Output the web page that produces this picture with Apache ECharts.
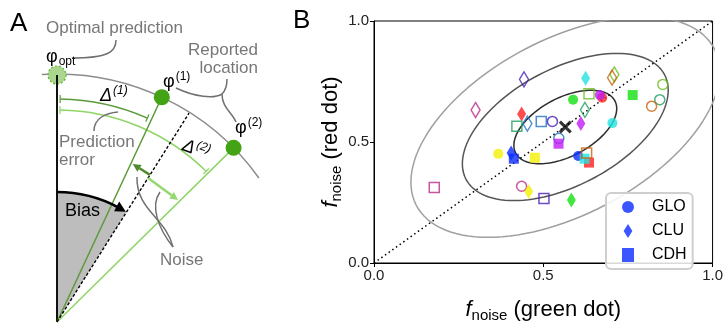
<!DOCTYPE html>
<html>
<head>
<meta charset="utf-8">
<script src="https://cdn.jsdelivr.net/npm/echarts@6/dist/echarts.min.js"></script>
<style>
  html, body { margin: 0; padding: 0; background: #fff; }
  #chart { width: 726px; height: 328px; }
</style>
</head>
<body>
<div id="chart"></div>
<script>
// participants: 6 filled colours, 6 hollow colours
const participants = ['red', 'magenta', 'blue', 'cyan', 'yellow', 'green',
                      'pink', 'purple', 'steel', 'teal', 'lime', 'orange']
const filled = [true, true, true, true, true, true, false, false, false, false, false, false]

// f_noise (green dot), f_noise (red dot) per participant
const gloData = [[0.674, 0.683], [0.667, 0.694], [0.603, 0.442], [0.704, 0.578], [0.367, 0.451], [0.588, 0.675],
                 [0.436, 0.317], [0.527, 0.585], [0.546, 0.515], [0.844, 0.675], [0.853, 0.738], [0.820, 0.648]]
const cluData = [[0.436, 0.616], [0.611, 0.576], [0.405, 0.455], [0.625, 0.763], [0.457, 0.295], [0.583, 0.260],
                 [0.300, 0.632], [0.443, 0.759], [0.453, 0.576], [0.623, 0.633], [0.710, 0.779], [0.703, 0.766]]
const cdhData = [[0.635, 0.415], [0.545, 0.493], [0.413, 0.431], [0.622, 0.431], [0.475, 0.435], [0.764, 0.694],
                 [0.178, 0.312], [0.502, 0.267], [0.494, 0.585], [0.422, 0.565], [0.635, 0.699], [0.628, 0.455]]
const meanPoint = [0.565, 0.562]
// covariance of the cloud: sigma (both axes), correlation, and the sigma levels drawn
const ellipseSigma = 0.152
const ellipseRho = 0.5
const ellipseLevels = [1, 2, 3]
const axisTicks = [0, 0.5, 1]

const palette = {
    red: '#ff1f1f', magenta: '#c21cf5', blue: '#0b2cff', cyan: '#22e3e0', yellow: '#f2f000', green: '#12e012',
    pink: '#bb2a8a', purple: '#4a1fb8', steel: '#1f72c4', teal: '#1fa060', lime: '#6cbf1f', orange: '#c8620f',
}
const FONT = '"Liberation Sans", Arial, sans-serif'

function points(arr) {
    return arr.map((p, i) => {
        let c = palette[participants[i]]
        return {
            value: p,
            itemStyle: filled[i]
                ? { color: c, borderWidth: 0 }
                : { color: 'rgba(255,255,255,0)', borderColor: c, borderWidth: 1.5 },
        }
    })
}

function ellipse(k) {
    let a = ellipseSigma * Math.sqrt(1 + ellipseRho)
    let b = ellipseSigma * Math.sqrt(1 - ellipseRho)
    let c = Math.SQRT1_2
    let out = []
    for (let d = 0; d <= 360; d += 3) {
        let t = d * Math.PI / 180
        out.push([meanPoint[0] + k * (a * c * Math.cos(t) - b * c * Math.sin(t)),
                  meanPoint[1] + k * (a * c * Math.cos(t) + b * c * Math.sin(t))])
    }
    return out
}

// ---------- panel A (schematic) ----------
const O = [57, 322]
const rad = d => d * Math.PI / 180
function P(r, a) { return [O[0] + r * Math.sin(rad(a)), O[1] - r * Math.cos(rad(a))] }
const ANG = { phi1: 25, phi2: 45.4, bias: 32.3 }
const DARK = '#5a9a38', LIGHT = '#8fd467', DOT = '#44a315', GREY = '#707070'

function line(p1, p2, stroke, w, dash) {
    return { type: 'line', shape: { x1: p1[0], y1: p1[1], x2: p2[0], y2: p2[1] },
             style: { stroke: stroke, lineWidth: w, lineDash: dash || null } }
}
function arc(r, a1, a2, stroke, w) {
    return { type: 'arc', shape: { cx: O[0], cy: O[1], r: r, startAngle: rad(a1 - 90), endAngle: rad(a2 - 90), clockwise: true },
             style: { stroke: stroke, lineWidth: w, fill: null } }
}
function arrow(p1, p2, color, w) {
    let dx = p2[0] - p1[0], dy = p2[1] - p1[1]
    let L = Math.sqrt(dx * dx + dy * dy), ux = dx / L, uy = dy / L
    let hl = 8, hw = 4
    let base = [p2[0] - ux * hl, p2[1] - uy * hl]
    return [
        line(p1, base, color, w),
        { type: 'polygon', shape: { points: [p2, [base[0] - uy * hw, base[1] + ux * hw], [base[0] + uy * hw, base[1] - ux * hw]] },
          style: { fill: color } },
    ]
}
function curve(p1, c1, c2, p2) {
    return { type: 'bezierCurve', shape: { x1: p1[0], y1: p1[1], cpx1: c1[0], cpy1: c1[1], cpx2: c2[0], cpy2: c2[1], x2: p2[0], y2: p2[1] },
             style: { stroke: GREY, lineWidth: 1.5, fill: null } }
}
function text(str, x, y, size, color, extra) {
    return { type: 'text', x: x, y: y, z: 10,
        style: Object.assign({ text: str, fill: color, fontSize: size, fontFamily: FONT,
            align: 'left', verticalAlign: 'middle', textAlign: 'left', textVerticalAlign: 'middle' }, (extra && extra.style) || {}) }
}
function supText(main, sup, x, y, italic) {
    return text('{a|' + main + '}{p|' + sup + '}', x, y, 18, '#000', { style: { rich: {
        a: { fontSize: 18, fontFamily: FONT, fontStyle: italic ? 'italic' : 'normal', fill: '#000' },
        p: { fontSize: 12, fontFamily: FONT, fontStyle: italic ? 'italic' : 'normal', fill: '#000', padding: [0, 0, 10, 1] },
    } } })
}

const biasTip = P(130, ANG.bias - 0.3)
const graphicA = [].concat(
    [{ type: 'sector', shape: { cx: O[0], cy: O[1], r0: 0, r: 130, startAngle: rad(-90), endAngle: rad(ANG.bias - 90), clockwise: true },
       style: { fill: '#bdbdbd' } }],
    [arc(248, -3.5, 54.5, '#8c8c8c', 1.5)],
    [arc(223, 0.8, 23.9, DARK, 1.5), line(P(219, 0.8), P(227, 0.8), DARK, 1.2), line(P(219, 23.9), P(227, 23.9), DARK, 1.2)],
    [arc(212, 0.8, 44.7, LIGHT, 1.5), line(P(208, 0.8), P(216, 0.8), LIGHT, 1.2), line(P(208, 44.7), P(216, 44.7), LIGHT, 1.2)],
    [{ type: 'circle', shape: { cx: P(247, 0)[0], cy: P(247, 0)[1], r: 9 },
       style: { fill: '#aad68f', stroke: '#5cb52c', lineWidth: 1.2, lineDash: [2, 2] } }],
    [line(O, P(247, 0), '#111', 2)],
    [line(O, P(248, ANG.phi1), DARK, 1.5), line(O, P(248, ANG.phi2), LIGHT, 1.5)],
    [line(O, P(247, ANG.bias), '#000', 1.4, [3, 2])],
    [arc(130, 0, ANG.bias - 4, '#000', 2.5),
     { type: 'polygon', shape: { points: [biasTip, P(124.5, ANG.bias - 5), P(135.5, ANG.bias - 5)] }, style: { fill: '#000' } }],
    [{ type: 'circle', shape: { cx: P(248, ANG.phi1)[0], cy: P(248, ANG.phi1)[1], r: 8 }, style: { fill: DOT } },
     { type: 'circle', shape: { cx: P(248, ANG.phi2)[0], cy: P(248, ANG.phi2)[1], r: 8 }, style: { fill: DOT } }],
    arrow(P(174, ANG.bias), [132.7, 164], '#4f8a2e', 2.5),
    arrow(P(170.5, ANG.bias), [178, 200], '#94d870', 2.5),
    [curve([72, 58], [108, 58], [116, 52], [116, 40]),
     curve([176, 88], [195, 97], [214, 99], [222, 94]),
     curve([227, 79], [227, 88], [224, 92], [222, 94]),
     curve([222, 94], [222, 108], [232, 112], [236, 122]),
     curve([94, 131], [94, 118], [106, 113], [118, 112]),
     curve([137, 177], [136, 210], [166, 218], [173, 247]),
     curve([160, 192], [150, 206], [158, 228], [173, 247])],
    [text('A', 10, 24, 26, '#000'),
     text('B', 293, 21, 26, '#000'),
     text('Optimal prediction', 46, 28, 17, '#777'),
     text('{a|φ}{s|opt}', 46, 57, 18, '#000', { style: { rich: {
         a: { fontSize: 18, fontFamily: FONT, fill: '#000' },
         s: { fontSize: 12, fontFamily: FONT, fill: '#000', padding: [10, 0, 0, 1] } } } }),
     text('Reported', 258, 50, 17, '#777', { style: { align: 'right', textAlign: 'right' } }),
     text('location', 258, 68, 17, '#777', { style: { align: 'right', textAlign: 'right' } }),
     supText('φ', '(1)', 163, 82),
     supText('φ', '(2)', 235, 128),
     supText('Δ', '(1)', 100, 96, true),
     Object.assign(supText('Δ', '(2)', 183, 145, true), { rotation: -0.35, originX: 0, originY: 0 }),
     text('Prediction', 59, 142, 17, '#777'),
     text('error', 59, 160, 17, '#777'),
     text('Bias', 65, 211, 18, '#000'),
     text('Noise', 160, 260, 17, '#777')]
)

// ---------- panel B ----------
const chart = echarts.init(document.getElementById('chart'))
const nameRich = {
    f: { fontSize: 22, fontStyle: 'italic', fontFamily: FONT, color: '#000' },
    s: { fontSize: 15, fontFamily: FONT, color: '#000', padding: [12, 0, 0, 0] },
    t: { fontSize: 22, fontFamily: FONT, color: '#000' },
}
function axis(name, gap) {
    return {
        type: 'value', min: axisTicks[0], max: axisTicks[axisTicks.length - 1], interval: axisTicks[1] - axisTicks[0],
        name: name, nameLocation: 'middle', nameGap: gap,
        nameTextStyle: { rich: nameRich },
        axisLine: { show: true, lineStyle: { color: '#000', width: 1 } },
        axisTick: { show: true, length: 4, lineStyle: { color: '#000' } },
        axisLabel: { fontSize: 15, color: '#222', fontFamily: FONT, margin: 5, formatter: v => v.toFixed(1) },
        splitLine: { show: false },
    }
}
const diamond = 'path://M5,0L10,8L5,16L0,8Z'
const cross = 'path://M0,2L2,0L6,4L10,0L12,2L8,6L12,10L10,12L6,8L2,12L0,10L4,6Z'
const greys = ['#2e2e2e', '#555555', '#a0a0a0']

let option = {
    animation: false,
    textStyle: { fontFamily: FONT },
    graphic: graphicA,
    grid: { left: 374, top: 21, width: 339, height: 249, show: true, borderColor: '#000', borderWidth: 1 },
    xAxis: axis('{f|f}{s|noise}{t| (green dot)}', 33),
    yAxis: axis('{f|f}{s|noise}{t| (red dot)}', 30),
    legend: {
        orient: 'vertical', left: 606, top: 193,
        padding: [6, 6, 6, 16], itemGap: 8, itemWidth: 12, itemHeight: 14,
        backgroundColor: 'rgba(255,255,255,0.85)', borderColor: '#cfcfcf', borderWidth: 2, borderRadius: 5,
        textStyle: { fontSize: 16, color: '#000', fontFamily: FONT, padding: [0, 0, 0, 13] },
        data: [{ name: 'GLO', icon: 'circle' }, { name: 'CLU', icon: diamond }, { name: 'CDH', icon: 'rect' }],
    },
    series: [].concat(
        ellipseLevels.map((k, i) => ({
            type: 'line', data: ellipse(k), showSymbol: false, silent: true, clip: true, z: 1,
            lineStyle: { color: greys[i], width: 1.5 },
        })),
        [{
            type: 'line', data: [[0, 0], [1, 1]], showSymbol: false, silent: true, z: 1,
            lineStyle: { color: '#000', width: 1.5, type: [1.5, 3] },
        },
        { name: 'GLO', type: 'scatter', symbol: 'circle', symbolSize: 10, data: points(gloData), itemStyle: { color: '#0b2cff' }, z: 3 },
        { name: 'CLU', type: 'scatter', symbol: diamond, symbolSize: [9, 15], data: points(cluData), itemStyle: { color: '#0b2cff' }, z: 3 },
        { name: 'CDH', type: 'scatter', symbol: 'rect', symbolSize: 10, data: points(cdhData), itemStyle: { color: '#0b2cff' }, z: 3 },
        { type: 'scatter', symbol: cross, symbolSize: 13, data: [meanPoint], itemStyle: { color: '#000' }, z: 4, silent: true }]
    ),
}
chart.setOption(option)
</script>
</body>
</html>
